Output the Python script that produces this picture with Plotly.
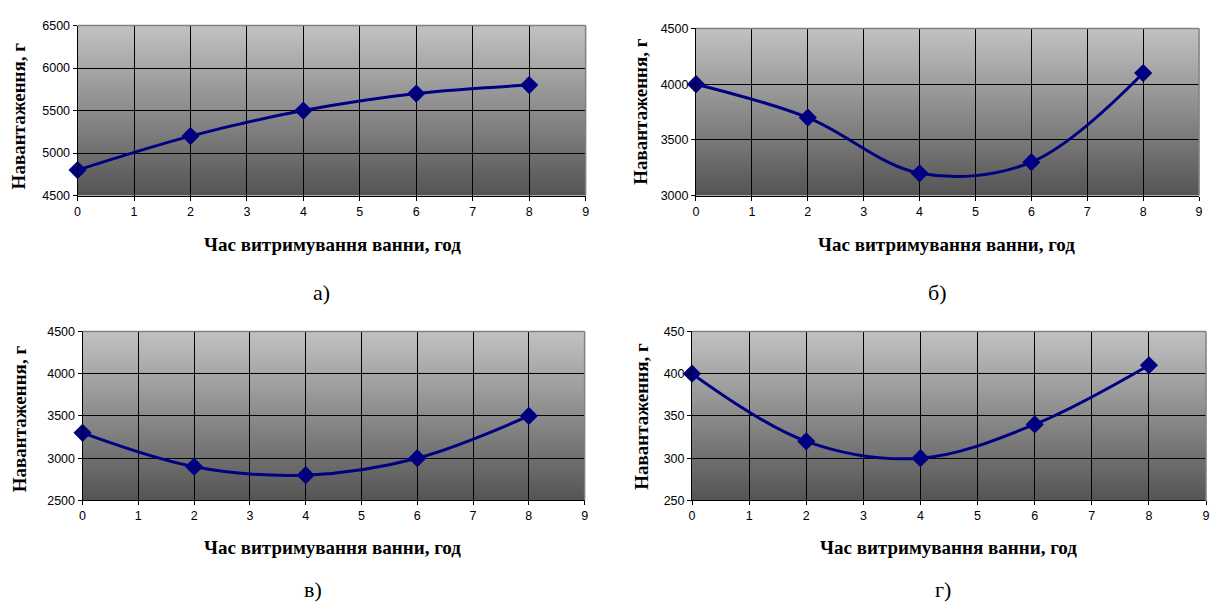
import plotly.graph_objects as go

W, H = 1215, 614

hours = [0, 2, 4, 6, 8]
load_a = [4800, 5200, 5500, 5700, 5800]
load_b = [4000, 3700, 3200, 3300, 4100]
load_c = [3300, 2900, 2800, 3000, 3500]
load_d = [400, 320, 300, 340, 410]

y_ranges = [[4500, 6500], [3000, 4500], [2500, 4500], [250, 450]]
y_dticks = [500, 500, 500, 50]
captions = ["а)", "б)", "в)", "г)"]
x_title = "Час витримування ванни, год"
y_title = "Навантаження, г"

# pixel boxes (left, right, top, bottom)
boxes = [(75, 586, 19, 193), (697, 1203, 22, 193), (80, 585, 332, 505), (693, 1210, 332, 505)]
caption_pos = [(320, 292), (940, 292), (312, 596), (945, 596)]
xtitle_pos = [(331, 243), (949, 243), (331, 553), (951, 553)]
ytitle_pos = [(16, 111), (641, 107), (16, 421), (642, 419)]

series = [load_a, load_b, load_c, load_d]
SERIF = "Liberation Serif"
SANS = "Liberation Sans"

def px(x):
    return x / W

def py(y):
    return 1 - y / H

fig = go.Figure()
shapes = []
annotations = []
layout = {}
NS = 50
top_c, bot_c = 194, 84
for i, (vals, (l, r, t, b)) in enumerate(zip(series, boxes)):
    n = "" if i == 0 else str(i + 1)
    xa, ya = "x" + n, "y" + n
    fig.add_trace(go.Scatter(
        x=hours, y=vals, xaxis=xa, yaxis=ya, mode="lines+markers",
        line=dict(color="#000080", width=3, shape="spline", smoothing=1.0),
        marker=dict(symbol="diamond", size=14, color="#000080"),
        showlegend=False, cliponaxis=False))
    axis_common = dict(
        showgrid=True, gridcolor="black", gridwidth=1, zeroline=False,
        showline=True, linecolor="black", linewidth=1, ticks="outside",
        ticklen=4, tickcolor="black",
        tickfont=dict(family=SANS, size=12.5, color="black"), fixedrange=True)
    layout["xaxis" + n] = dict(domain=[px(l), px(r)], range=[0, 9], anchor=ya,
                               dtick=1, tick0=0, **axis_common)
    layout["yaxis" + n] = dict(domain=[py(b), py(t)], range=y_ranges[i], anchor=xa,
                               dtick=y_dticks[i], **axis_common)
    for k in range(NS):
        f0, f1 = k / NS, (k + 1) / NS
        c = int(round(top_c + (bot_c - top_c) * (1 - (f0 + f1) / 2)))
        shapes.append(dict(type="rect", xref=xa + " domain", yref=ya + " domain",
                           x0=0, x1=1, y0=f0, y1=min(1.0, f1 + 1.0 / NS), layer="below",
                           line=dict(width=0), fillcolor=f"rgb({c},{c},{c})"))
    shapes.append(dict(type="line", xref=xa + " domain", yref=ya + " domain",
                       x0=0, x1=1, y0=1, y1=1, layer="above", line=dict(color="#808080", width=1.5)))
    shapes.append(dict(type="line", xref=xa + " domain", yref=ya + " domain",
                       x0=1, x1=1, y0=0, y1=1, layer="above", line=dict(color="#808080", width=1.5)))
    annotations.append(dict(text="<b>" + x_title + "</b>", x=px(xtitle_pos[i][0]), y=py(xtitle_pos[i][1]),
                            xref="paper", yref="paper", showarrow=False, xanchor="center", yanchor="middle",
                            font=dict(family=SERIF, size=19, color="black")))
    annotations.append(dict(text="<b>" + y_title + "</b>", x=px(ytitle_pos[i][0]), y=py(ytitle_pos[i][1]),
                            xref="paper", yref="paper", showarrow=False, textangle=-90,
                            xanchor="center", yanchor="middle",
                            font=dict(family=SERIF, size=19, color="black")))
    annotations.append(dict(text=captions[i], x=px(caption_pos[i][0]), y=py(caption_pos[i][1]),
                            xref="paper", yref="paper", showarrow=False, xanchor="center", yanchor="middle",
                            font=dict(family=SERIF, size=22, color="black")))

fig.update_layout(width=W, height=H, margin=dict(l=0, r=0, t=0, b=0),
                  paper_bgcolor="white", plot_bgcolor="white",
                  font=dict(family=SANS),
                  shapes=shapes, annotations=annotations, **layout)
fig.write_html("out.html")
